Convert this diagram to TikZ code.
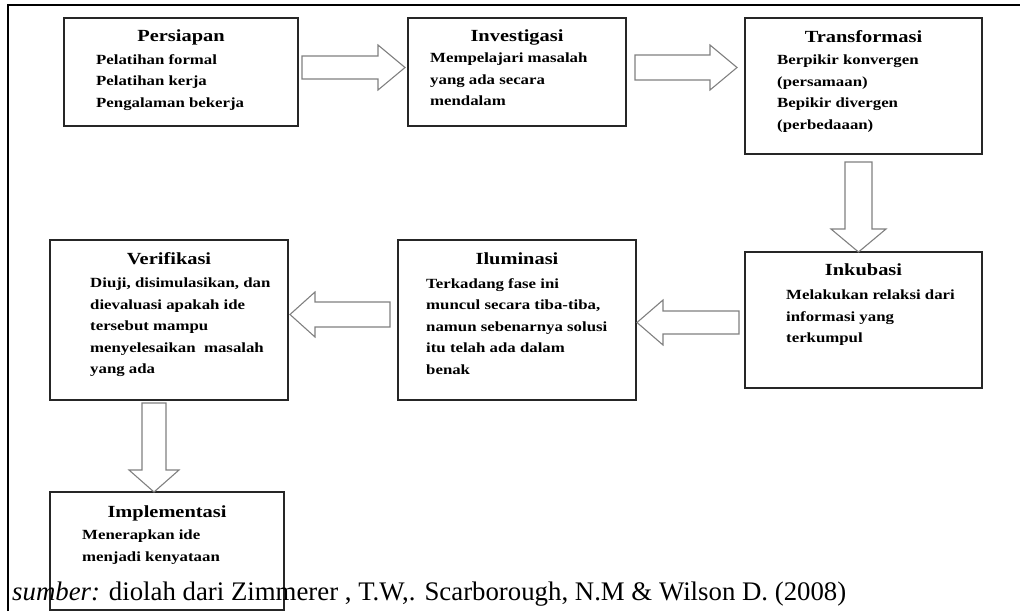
\documentclass[tikz,border=0pt]{standalone}
\usepackage{fontspec}
\setmainfont{Liberation Serif}
\newfontfamily\boxfont{Liberation Serif}[FakeStretch=1.2]
\usetikzlibrary{calc}

\tikzset{
  box/.style={draw=black!85, line width=1.3pt, inner sep=0pt, outer sep=0pt},
  title/.style={font=\boxfont\bfseries\fontsize{17}{20}\selectfont, anchor=base, inner sep=0pt},
  body/.style={font=\boxfont\bfseries\fontsize{14}{21.5}\selectfont, align=left, anchor=north west, inner sep=0pt},
  blockarrow/.style={draw=black!50, line width=1.1pt, line join=miter},
}

% hollow arrow: start, tip, shaft half width, head half width, head length
\newcommand{\fatarrow}[5]{%
  \path ($(#2)!#5!(#1)$) coordinate (hb);
  \draw[blockarrow] ($(#1)!#3!90:(#2)$) -- ($(hb)!#3!90:(#2)$) -- ($(hb)!#4!90:(#2)$) -- (#2)
    -- ($(hb)!#4!-90:(#2)$) -- ($(hb)!#3!-90:(#2)$) -- ($(#1)!#3!-90:(#2)$) -- cycle;}

\begin{document}
\begin{tikzpicture}[x=1pt, y=-1pt]
    \useasboundingbox (0,0) rectangle (1020,611);

    % Frame
    \draw[line width=2pt] (8,611) -- (8,5) -- (1020,5);

    % Boxes
    \node[box, minimum width=234pt, minimum height=108pt] (persiapan) at (181,72) {};
    \node[box, minimum width=218pt, minimum height=108pt] (investigasi) at (517,72) {};
    \node[box, minimum width=237pt, minimum height=136pt] (transformasi) at (863.5,86) {};
    \node[box, minimum width=237pt, minimum height=136pt] (inkubasi) at (863.5,320) {};
    \node[box, minimum width=238pt, minimum height=160pt] (iluminasi) at (517,320) {};
    \node[box, minimum width=238pt, minimum height=160pt] (verifikasi) at (169,320) {};
    \node[box, minimum width=234pt, minimum height=118pt] (implementasi) at (167,551) {};

    % Titles
    \node[title] (persiapanT) at (181,41) {Persiapan};
    \node[title] (investigasiT) at (517,41) {Investigasi};
    \node[title] (transformasiT) at (863.5,42) {Transformasi};
    \node[title] (inkubasiT) at (863.5,275) {Inkubasi};
    \node[title] (iluminasiT) at (517,264) {Iluminasi};
    \node[title] (verifikasiT) at (169,264) {Verifikasi};
    \node[title] (implementasiT) at (167,517) {Implementasi};

    % Texts
    \node[body] (persiapanB) at (96,54) {Pelatihan formal\\Pelatihan kerja\\Pengalaman bekerja};
    \node[body] (investigasiB) at (430,53) {Mempelajari masalah\\yang ada secara\\mendalam};
    \node[body] (transformasiB) at (777,55) {Berpikir konvergen\\(persamaan)\\Bepikir divergen\\(perbedaaan)};
    \node[body] (inkubasiB) at (786,290) {Melakukan relaksi dari\\informasi yang\\terkumpul};
    \node[body] (iluminasiB) at (426,278) {Terkadang fase ini\\muncul secara tiba-tiba,\\namun sebenarnya solusi\\itu telah ada dalam\\benak};
    \node[body] (verifikasiB) at (90,278) {Diuji, disimulasikan, dan\\dievaluasi apakah ide\\tersebut mampu\\menyelesaikan\ \ masalah\\yang ada};
    \node[body] (implementasiB) at (82,530) {Menerapkan ide\\menjadi kenyataan};

    % Arrows
    \coordinate (a1s) at ($(persiapan.east)+(4,-4.5)$);
    \coordinate (a1t) at ($(investigasi.west)+(-3,-4.5)$);
    \coordinate (a2s) at ($(investigasi.east)+(9,-4.5)$);
    \coordinate (a2t) at ($(transformasi.west)+(-8,-18.5)$);
    \coordinate (a3s) at ($(transformasi.south)+(-5,8)$);
    \coordinate (a3t) at ($(inkubasi.north)+(-5,0)$);
    \coordinate (a4s) at ($(inkubasi.west)+(-6,2.5)$);
    \coordinate (a4t) at ($(iluminasi.east)+(1,2.5)$);
    \coordinate (a5s) at ($(iluminasi.west)+(-8,-5.5)$);
    \coordinate (a5t) at ($(verifikasi.east)+(2,-5.5)$);
    \coordinate (a6s) at ($(verifikasi.south)+(-15,3)$);
    \coordinate (a6t) at ($(implementasi.north)+(-13,0)$);
    \fatarrow{a1s}{a1t}{11.5pt}{22.5pt}{27pt}
    \fatarrow{a2s}{a2t}{12.5pt}{22.5pt}{27pt}
    \fatarrow{a3s}{a3t}{13.5pt}{27.5pt}{23pt}
    \fatarrow{a4s}{a4t}{11.5pt}{22.5pt}{26pt}
    \fatarrow{a5s}{a5t}{12.5pt}{22.5pt}{25pt}
    \fatarrow{a6s}{a6t}{12pt}{25pt}{22pt}

    % Source
    \node[anchor=base west, inner sep=0pt, font=\fontsize{26.8}{30}\selectfont] (sumber) at (12,600)
        {\textit{sumber:} diolah dari Zimmerer , T.W,. Scarborough, N.M \& Wilson D. (2008)};
\end{tikzpicture}
\end{document}
